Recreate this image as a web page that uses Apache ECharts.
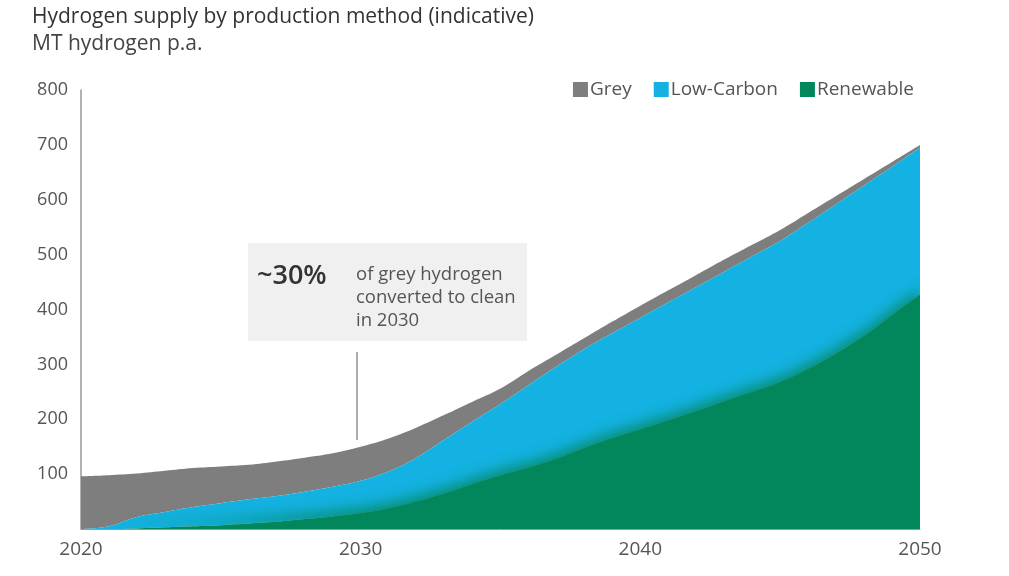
<!DOCTYPE html>
<html>
<head>
<meta charset="utf-8">
<script src="https://cdn.jsdelivr.net/npm/echarts@6/dist/echarts.min.js"></script>
<style>
html,body{margin:0;padding:0;background:#fff;}
#chart{width:1009px;height:576px;}
</style>
</head>
<body>
<div id="chart"></div>
<script>
const years = ['2020','2021','2022','2023','2024','2025','2026','2027','2028','2029','2030',
  '2031','2032','2033','2034','2035','2036','2037','2038','2039','2040',
  '2041','2042','2043','2044','2045','2046','2047','2048','2049','2050'];
const renewable = [0,0,1,3,5,7,10,13,18,23,29,38,50,65,82,98,112,128,148,166,182,198,215,233,250,268,292,320,352,390,428];
const lowCarbon = [0,5,21,28,35,40,44,47,50,54,59,67,80,98,114,130,150,168,180,191,203,215,226,236,247,257,266,272,274,270,267];
const grey = [96,93,79,75,71,67,63,63,62,61,62,60,55,45,36,28,26,22,20,21,22,22,22,22,21,20,18,15,12,9,5];
const yTicks = [0,100,200,300,400,500,600,700,800];
const xTickLabels = ['2020','2030','2040','2050'];

const FONT = 'Open Sans';
const chart = echarts.init(document.getElementById('chart'));
chart.setOption({
  backgroundColor: '#fff',
  animation: false,
  title: [
    {text: 'Hydrogen supply by production method (indicative)', left: 27, top: 2,
     textStyle: {fontFamily: FONT, fontSize: 21, fontWeight: 'normal', color: '#333'}},
    {text: 'MT hydrogen p.a.', left: 27, top: 29,
     textStyle: {fontFamily: FONT, fontSize: 21, fontWeight: 'normal', color: '#444'}}
  ],
  legend: {
    data: ['Grey','Low-Carbon','Renewable'],
    right: 90, top: 75, icon: 'rect', itemWidth: 15, itemHeight: 15, itemGap: 22,
    textStyle: {fontFamily: FONT, fontSize: 19, color: '#555', padding: [0,0,0,-3]}
  },
  grid: {left: 81, right: 89, top: 90, bottom: 47},
  xAxis: {
    type: 'category', data: years, boundaryGap: false,
    axisLine: {lineStyle: {color: '#999', width: 1}},
    axisTick: {show: false},
    axisLabel: {
      interval: 0, margin: 11,
      formatter: v => xTickLabels.indexOf(v) >= 0 ? v : '',
      fontFamily: FONT, fontSize: 19, color: '#555'
    }
  },
  yAxis: {
    type: 'value', min: yTicks[0], max: yTicks[yTicks.length-1], interval: 100,
    axisLine: {show: true, lineStyle: {color: '#999', width: 1.5}},
    axisTick: {show: false},
    splitLine: {show: false},
    axisLabel: {
      margin: 13,
      formatter: v => v === 0 ? '' : String(v),
      fontFamily: FONT, fontSize: 18, color: '#555'
    }
  },
  series: [
    {name: 'Renewable', type: 'line', stack: 'h2', data: renewable, smooth: 0.4, symbol: 'none', z: 4,
     lineStyle: {width: 0}, itemStyle: {color: '#02865b'},
     areaStyle: {color: '#02865b', opacity: 1, shadowColor: 'rgba(2,134,91,0.85)', shadowBlur: 14, shadowOffsetY: -5}},
    {name: 'Low-Carbon', type: 'line', stack: 'h2', data: lowCarbon, smooth: 0.4, symbol: 'none', z: 3,
     lineStyle: {width: 0}, itemStyle: {color: '#14b2e2'}, areaStyle: {color: '#14b2e2', opacity: 1}},
    {name: 'Grey', type: 'line', stack: 'h2', data: grey, smooth: 0.4, symbol: 'none', z: 2,
     lineStyle: {width: 0}, itemStyle: {color: '#7e7e7e'}, areaStyle: {color: '#7e7e7e', opacity: 1}}
  ],
  graphic: [
    {type: 'rect', left: 248, top: 243, shape: {width: 279, height: 98}, style: {fill: '#f0f0f0'}, z: 10},
    {type: 'text', left: 257, top: 263, z: 11,
     style: {text: '~30%', fontFamily: FONT, fontSize: 27, fontWeight: 600, fill: '#333'}},
    {type: 'text', left: 356, top: 263, z: 11,
     style: {text: 'of grey hydrogen\nconverted to clean\nin 2030', fontFamily: FONT, fontSize: 18.5,
             lineHeight: 23, fill: '#555'}},
    {type: 'line', z: 11, shape: {x1: 357, y1: 352, x2: 357, y2: 440}, style: {stroke: '#777', lineWidth: 1.2}}
  ]
});
</script>
</body>
</html>
